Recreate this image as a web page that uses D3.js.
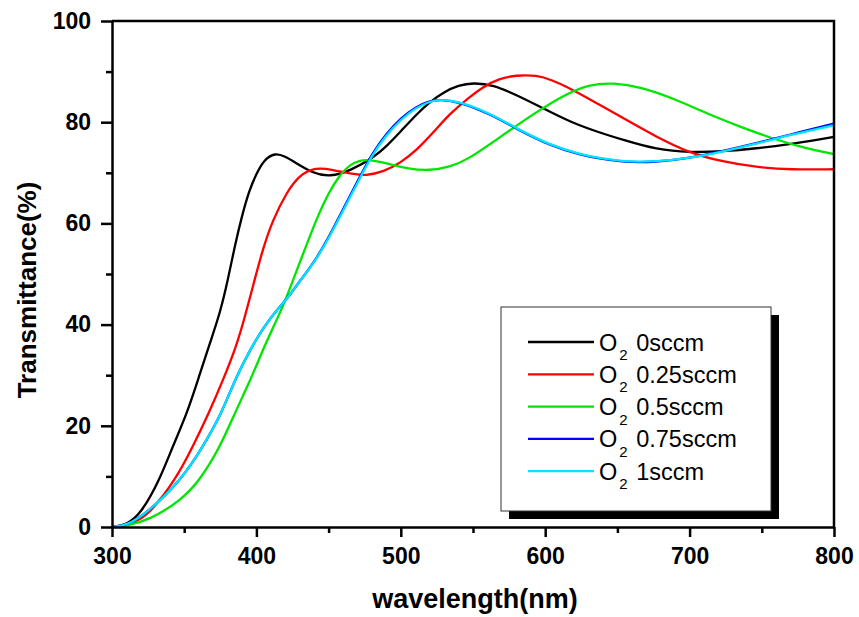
<!DOCTYPE html>
<html>
<head>
<meta charset="utf-8">
<script src="https://cdn.jsdelivr.net/npm/d3@7"></script>
<style>
  body { margin: 0; background: #fff; }
  text { font-family: Arial, "Liberation Sans", sans-serif; }
</style>
</head>
<body>
<div id="chart"></div>
<script>
// series names + colours (legend order)
const seriesNames = ["0sccm", "0.25sccm", "0.5sccm", "0.75sccm", "1sccm"];
const seriesColors = ["#000000", "#ff0000", "#00e600", "#0000ff", "#00e5ff"];

// wavelength (nm) / transmittance (%)
const wl0 = [300, 310, 320, 333, 342, 352, 360, 368, 375, 380, 385, 390, 395, 400, 405, 413, 420, 426, 439, 451, 465, 481, 490, 500, 511, 520, 530, 540, 550, 564, 580, 599, 617, 636, 654, 677, 700, 723, 746, 770, 788, 800];
const t0  = [0, 0.4, 2.6, 9.3, 15.9, 22.5, 29.5, 36.5, 42.5, 48.5, 55.5, 61.5, 66.5, 69.8, 72.5, 74.0, 73.2, 72.2, 69.9, 69.2, 70.4, 73.0, 75.2, 78.2, 81.6, 84.0, 86.0, 87.3, 87.8, 87.4, 85.4, 82.7, 80.1, 78.1, 76.5, 74.6, 74.0, 74.2, 74.8, 75.7, 76.5, 77.1];

const wl1 = [300, 310, 318, 326, 344, 356, 367, 377, 386, 392, 398, 404, 411, 421, 430, 441, 453, 465, 476, 488, 500, 511, 522, 534, 546, 557, 568, 580, 594, 605, 615, 631, 638, 654, 677, 700, 723, 746, 770, 800];
const t1  = [0, 0.3, 1.3, 2.7, 9.3, 15.9, 22.5, 29.1, 35.6, 41.5, 48.0, 54.5, 60.5, 66.2, 69.6, 71.1, 70.6, 69.8, 69.4, 70.2, 72.0, 74.5, 77.8, 81.7, 84.6, 87.0, 88.6, 89.3, 89.3, 88.3, 87.0, 84.5, 83.4, 80.8, 77.1, 73.9, 72.2, 71.1, 70.6, 70.7];

const wl2 = [300, 310, 326, 348, 361, 375, 385, 396, 405, 415, 420, 425, 435, 443, 450, 457, 465, 476, 492, 505, 520, 534, 546, 569, 592, 615, 631, 647, 666, 689, 712, 735, 758, 781, 800];
const t2  = [0, 0.2, 1.4, 5.3, 9.3, 15.9, 22.5, 29.1, 35.4, 41.5, 44.8, 48.5, 56.0, 61.8, 66.0, 69.3, 71.8, 72.9, 71.7, 70.8, 70.4, 71.2, 72.5, 77.1, 81.7, 85.7, 87.5, 87.8, 87.0, 84.7, 81.7, 79.1, 76.7, 74.8, 73.7];

const wl3 = [300, 310, 324, 348, 363, 376, 385, 396, 405, 415, 421, 430, 440, 450, 460, 470, 480, 490, 500, 510, 520, 527, 541, 562, 580, 603, 626, 638, 654, 677, 700, 723, 747, 770, 800];
const t3  = [0, 0.3, 2.7, 9.3, 15.9, 22.5, 29.1, 35.2, 39.5, 43.2, 45.0, 48.6, 52.3, 57.2, 62.8, 68.3, 73.8, 77.8, 80.8, 83.0, 84.2, 84.5, 84.0, 81.6, 78.7, 75.4, 73.4, 72.8, 72.1, 72.1, 72.9, 74.3, 75.9, 77.6, 79.7];

const wl4 = [300, 310, 324, 348, 363, 376, 385, 396, 405, 415, 421, 430, 440, 450, 460, 470, 480, 490, 500, 510, 520, 527, 541, 562, 580, 603, 626, 638, 654, 677, 700, 723, 747, 770, 800];
const t4  = [0, 0.3, 2.7, 9.3, 15.9, 22.5, 29.1, 35.2, 39.5, 43.2, 45.0, 48.6, 52.2, 57.0, 62.5, 68.0, 73.5, 77.5, 80.5, 82.8, 84.1, 84.5, 84.1, 81.7, 78.8, 75.5, 73.5, 72.9, 72.2, 72.2, 72.9, 74.2, 75.8, 77.5, 79.4];

const xTicks = [300, 400, 500, 600, 700, 800];
const yTicks = [0, 20, 40, 60, 80, 100];

const allSeries = [[wl0, t0], [wl1, t1], [wl2, t2], [wl3, t3], [wl4, t4]]
  .map(([wl, t], i) => ({
    name: seriesNames[i],
    color: seriesColors[i],
    points: wl.map((w, j) => [w, t[j]])
  }));

// svg size + plot box
const svgWidth = 859;
const svgHeight = 617;
const margin = { top: 21, right: 25, bottom: 90, left: 112 };
const plotRight = svgWidth - margin.right;
const plotBottom = svgHeight - margin.bottom;

const svg = d3.select("#chart")
  .append("svg")
  .attr("width", svgWidth)
  .attr("height", svgHeight);

// scales
const xScale = d3.scaleLinear().domain([300, 800]).range([margin.left, plotRight]);
const yScale = d3.scaleLinear().domain([0, 100]).range([plotBottom, margin.top]);

// lines
const line = d3.line()
  .x(d => xScale(d[0]))
  .y(d => yScale(d[1]))
  .curve(d3.curveBasis);

svg.append("g")
  .selectAll("path")
  .data(allSeries)
  .enter()
  .append("path")
  .attr("d", d => line(d.points))
  .attr("fill", "none")
  .attr("stroke", d => d.color)
  .attr("stroke-width", 2.3);

// frame (top + right)
svg.append("path")
  .attr("d", `M${margin.left},${margin.top}H${plotRight}V${plotBottom}`)
  .attr("fill", "none")
  .attr("stroke", "#000")
  .attr("stroke-width", 2.5);

// minor ticks
svg.append("g")
  .attr("transform", `translate(0, ${plotBottom})`)
  .call(d3.axisBottom(xScale).tickValues([350, 450, 550, 650, 750]).tickSize(6).tickFormat(""))
  .call(g => g.select(".domain").remove())
  .selectAll("line").attr("stroke-width", 2.5);

svg.append("g")
  .attr("transform", `translate(${margin.left}, 0)`)
  .call(d3.axisLeft(yScale).tickValues([10, 30, 50, 70, 90]).tickSize(6).tickFormat(""))
  .call(g => g.select(".domain").remove())
  .selectAll("line").attr("stroke-width", 2.5);

// x axis
const xAxis = svg.append("g")
  .attr("transform", `translate(0, ${plotBottom})`)
  .call(d3.axisBottom(xScale).tickValues(xTicks).tickSize(10).tickSizeOuter(0).tickPadding(11));
xAxis.select(".domain").attr("stroke-width", 2.5);
xAxis.selectAll("line").attr("stroke-width", 2.5);
xAxis.selectAll("text")
  .style("font-size", "23px")
  .style("font-weight", "bold")
  .attr("fill", "#000");

// y axis
const yAxis = svg.append("g")
  .attr("transform", `translate(${margin.left}, 0)`)
  .call(d3.axisLeft(yScale).tickValues(yTicks).tickSize(11).tickSizeOuter(0).tickPadding(10));
yAxis.select(".domain").attr("stroke-width", 2.5);
yAxis.selectAll("line").attr("stroke-width", 2.5);
yAxis.selectAll("text")
  .style("font-size", "23px")
  .style("font-weight", "bold")
  .attr("fill", "#000");

// axis titles
svg.append("text")
  .attr("x", (margin.left + plotRight) / 2 + 2)
  .attr("y", 608)
  .style("text-anchor", "middle")
  .style("font-size", "27px")
  .style("font-weight", "bold")
  .text("wavelength(nm)");

svg.append("text")
  .attr("transform", "rotate(-90)")
  .attr("x", -290)
  .attr("y", 36)
  .style("text-anchor", "middle")
  .style("font-size", "26px")
  .style("font-weight", "bold")
  .text("Transmittance(%)");

// legend
const legend = svg.append("g").attr("transform", "translate(501, 307)");
legend.append("rect")
  .attr("x", 8).attr("y", 8)
  .attr("width", 270).attr("height", 204)
  .attr("fill", "#000");
legend.append("rect")
  .attr("width", 270).attr("height", 204)
  .attr("fill", "#fff")
  .attr("stroke", "#333")
  .attr("stroke-width", 1);

const rows = legend.selectAll(".row")
  .data(allSeries)
  .enter()
  .append("g")
  .attr("transform", (d, i) => `translate(0, ${35 + i * 32.3})`);

rows.append("line")
  .attr("x1", 27).attr("x2", 93)
  .attr("stroke", d => d.color)
  .attr("stroke-width", 2.3);

const label = rows.append("text")
  .attr("x", 98)
  .attr("y", 8.5)
  .style("font-size", "23.5px")
  .attr("fill", "#000");
label.append("tspan").text("O");
label.append("tspan").attr("dy", 9.5).attr("dx", 2).style("font-size", "15px").text("2");
label.append("tspan").attr("dy", -9.5).attr("dx", 2).text(d => " " + d.name);
</script>
</body>
</html>
